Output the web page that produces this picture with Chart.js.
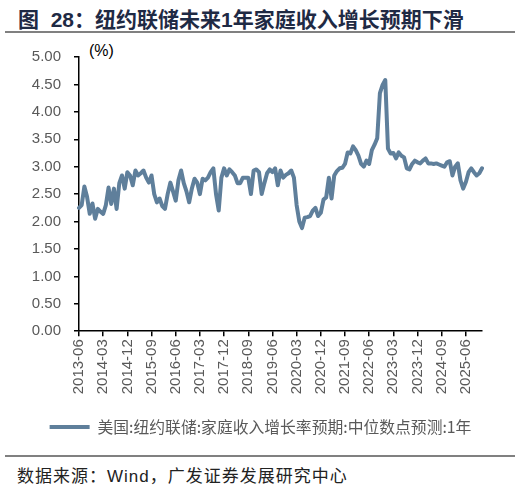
<!DOCTYPE html>
<html>
<head>
<meta charset="utf-8">
<script src="https://cdn.jsdelivr.net/npm/chart.js@4.4.1/dist/chart.umd.min.js"></script>
<style>
  body { margin: 0; width: 521px; height: 488px; background: #fff; position: relative; overflow: hidden; }
  #title { position: absolute; left: 18px; top: 3px; font: bold 21px "Liberation Sans", "Noto Sans CJK SC", sans-serif; color: #1f2a44; white-space: nowrap; }
  #rule1 { position: absolute; left: 5px; top: 31px; width: 510px; height: 0; border-top: 2px solid #808080; }
  #unit { position: absolute; left: 89px; top: 42px; font: 16px "Liberation Sans", sans-serif; color: #000; }
  #chartBox { position: absolute; left: 0; top: 40px; width: 521px; height: 405px; }
  #rule2 { position: absolute; left: 5px; top: 455px; width: 510px; height: 0; border-top: 2px solid #808080; }
  #source { position: absolute; left: 17px; top: 462px; font: 17px "Liberation Sans", "Noto Sans CJK SC", sans-serif; letter-spacing: 1px; color: #222; white-space: nowrap; }
</style>
</head>
<body>
<div id="title">图&nbsp; 28：纽约联储未来1年家庭收入增长预期下滑</div>
<div id="rule1"></div>
<div id="unit">(%)</div>
<div id="chartBox"><canvas id="incomeChart" width="521" height="405"></canvas></div>
<div id="rule2"></div>
<div id="source">数据来源：Wind，广发证券发展研究中心</div>
<script>
// 月度数据 2013-06 ~ 2025-12
const startYear = 2013;
const startMonth = 6;

// 纽约联储 家庭收入增长率预期 中位数 1年 (%)
const incomeExpect = [
  2.25, 2.30, 2.64, 2.45, 2.14, 2.33, 2.05, 2.23, 2.18, 2.14,
  2.30, 2.62, 2.32, 2.60, 2.23, 2.70, 2.84, 2.60, 2.90, 2.84,
  2.66, 2.93, 2.84, 2.88, 2.93, 2.80, 2.71, 2.84, 2.50, 2.35,
  2.42, 2.28, 2.23, 2.50, 2.71, 2.55, 2.38, 2.75, 2.93, 2.70,
  2.55, 2.35, 2.60, 2.78, 2.71, 2.50, 2.78, 2.75, 2.80, 2.90,
  2.97, 2.50, 2.20, 2.80, 2.97, 2.84, 2.95, 2.90, 2.84, 2.70,
  2.70, 2.80, 2.80, 2.80, 2.50, 2.93, 2.95, 2.90, 2.50, 2.70,
  2.88, 2.95, 2.90, 2.97, 2.66, 2.93, 2.80, 2.85, 2.88, 2.93,
  2.80, 2.30, 2.00, 1.88, 2.07, 2.08, 2.10, 2.20, 2.25, 2.10,
  2.16, 2.40, 2.44, 2.80, 2.42, 2.84, 2.92, 2.97, 2.98, 3.05,
  3.26, 3.24, 3.37, 3.30, 3.20, 3.05, 3.00, 3.11, 3.05, 3.30,
  3.40, 3.52, 4.34, 4.49, 4.58, 3.33, 3.24, 3.25, 3.15, 3.26,
  3.20, 3.17, 2.97, 2.95, 3.05, 3.11, 3.08, 3.06, 3.11, 3.15,
  3.06, 3.06, 3.05, 3.06, 3.04, 3.02, 3.00, 3.08, 3.10, 2.84,
  3.00, 3.06, 2.75, 2.60, 2.72, 2.90, 2.97, 2.90, 2.84, 2.88,
  2.97
];

// x轴显示的刻度
const tickLabels = [
  '2013-06', '2014-03', '2014-12', '2015-09', '2016-06', '2017-03',
  '2017-12', '2018-09', '2019-06', '2020-03', '2020-12', '2021-09',
  '2022-06', '2023-03', '2023-12', '2024-09', '2025-06'
];

const seriesName = '美国:纽约联储:家庭收入增长率预期:中位数点预测:1年';

// 月份标签
const months = [];
for (let i = 0; i < incomeExpect.length; i++) {
  const m = startMonth - 1 + i;
  const y = startYear + Math.floor(m / 12);
  const mm = (m % 12) + 1;
  months.push(`${y}-${String(mm).padStart(2, '0')}`);
}

const lineColor = '#5f7f9b';
const axisFont = { family: '"Liberation Sans", Arial, sans-serif', size: 15 };

new Chart(document.getElementById('incomeChart'), {
  type: 'line',
  data: {
    labels: months,
    datasets: [{
      label: seriesName,
      data: incomeExpect,
      borderColor: lineColor,
      backgroundColor: lineColor,
      borderWidth: 4,
      pointRadius: 0,
      tension: 0,
      borderJoinStyle: 'round',
      borderCapStyle: 'round',
    }],
  },
  options: {
    responsive: false,
    animation: false,
    layout: { padding: { top: 17, right: 0, left: 0, bottom: 0 } },
    plugins: {
      tooltip: { enabled: false },
      legend: {
        position: 'bottom',
        labels: {
          usePointStyle: true,
          pointStyle: 'line',
          pointStyleWidth: 40,
          padding: 10,
          color: '#595959',
          font: { family: '"Noto Sans CJK SC", sans-serif', size: 15.8 },
        },
      },
    },
    scales: {
      x: {
        type: 'category',
        offset: false,
        border: { display: true, color: '#000', width: 1.5 },
        grid: { display: true, drawOnChartArea: false, drawTicks: true, tickLength: 5, color: '#000', lineWidth: 1.5 },
        ticks: {
          autoSkip: false,
          maxRotation: 90,
          minRotation: 90,
          padding: 3,
          color: '#595959',
          font: axisFont,
          callback: function (value, index) {
            const label = this.getLabelForValue(value);
            return tickLabels.includes(label) ? label : null;
          },
        },
        afterFit: (scale) => { scale.height = 78; },
      },
      y: {
        min: 0,
        max: 5,
        border: { display: true, color: '#000', width: 1.5 },
        grid: { display: true, drawOnChartArea: false, drawTicks: true, tickLength: 5, color: '#000', lineWidth: 1.5 },
        ticks: {
          stepSize: 0.5,
          padding: 13,
          color: '#595959',
          font: axisFont,
          callback: (v) => Number(v).toFixed(2),
        },
        afterFit: (scale) => {
          scale.width = 79;
          // 刻度间距不影响上下留白
          scale.paddingTop = 9;
          scale.paddingBottom = 9;
        },
      },
      // 右侧留白用的空轴
      yRight: {
        position: 'right',
        min: 0,
        max: 5,
        border: { display: false },
        grid: { display: false },
        ticks: { display: false },
        afterFit: (scale) => { scale.width = 39; },
      },
    },
  },
});
</script>
</body>
</html>
